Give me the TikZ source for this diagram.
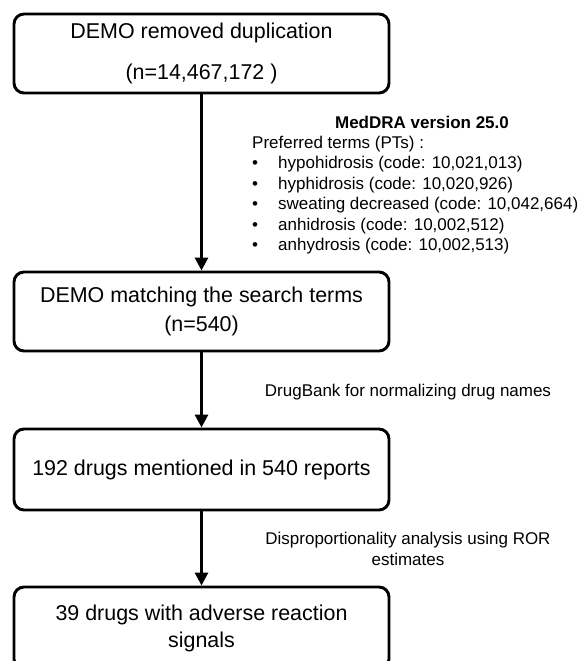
\documentclass[tikz,border=0pt]{standalone}
\usepackage{fontspec}
\setmainfont{Liberation Sans}
\usetikzlibrary{arrows.meta}
\tikzset{
	stage/.style={draw, line width=2.5pt, rounded corners=0.3cm, minimum width=11.25cm, align=center, inner sep=0pt, font=\fontsize{18.3}{23}\selectfont},
	note/.style={inner sep=0pt, font=\fontsize{14.5}{17.5}\selectfont},
	flow/.style={line width=2.5pt, -{Triangle[length=0.39cm,width=0.39cm]}},
}
\newcommand{\bull}{\makebox[0.78cm][l]{\textbullet}}

\begin{document}
\begin{tikzpicture}[x=0.03cm, y=-0.03cm]
	\useasboundingbox (0,0) rectangle (587,661);
	% stages
	\node[stage, minimum height=2.37cm] (dedup) at (201.5,53.5) {DEMO removed duplication\\[12pt](n=14,467,172 )};
	\node[stage, minimum height=2.37cm] (match) at (201.5,311.5) {DEMO matching the search terms\\[1pt](n=540)};
	\node[stage, minimum height=2.43cm] (drugs) at (201.5,469.5) {192 drugs mentioned in 540 reports};
	\node[stage, minimum height=2.46cm] (signal) at (201.5,628) {39 drugs with adverse reaction\\signals};
	% arrows
	\draw[flow] (dedup) -- (match);
	\draw[flow] (match) -- (drugs);
	\draw[flow] (drugs) -- (signal);
	% side notes
	\node[note, font=\bfseries\fontsize{14.5}{17.5}\selectfont] (meddra) at (422,122) {MedDRA version 25.0};
	\node[note, align=left, anchor=north west] (terms) at (252,135.5) {Preferred terms (PTs) :\\
		\bull hypohidrosis (code: 10,021,013)\\
		\bull hyphidrosis (code: 10,020,926)\\
		\bull sweating decreased (code: 10,042,664)\\
		\bull anhidrosis (code: 10,002,512)\\
		\bull anhydrosis (code: 10,002,513)};
	\node[note, align=center] (norm) at (408,392) {DrugBank for normalizing drug names};
	\node[note, align=center] (ror) at (408,549) {Disproportionality analysis using ROR\\estimates};
\end{tikzpicture}
\end{document}
